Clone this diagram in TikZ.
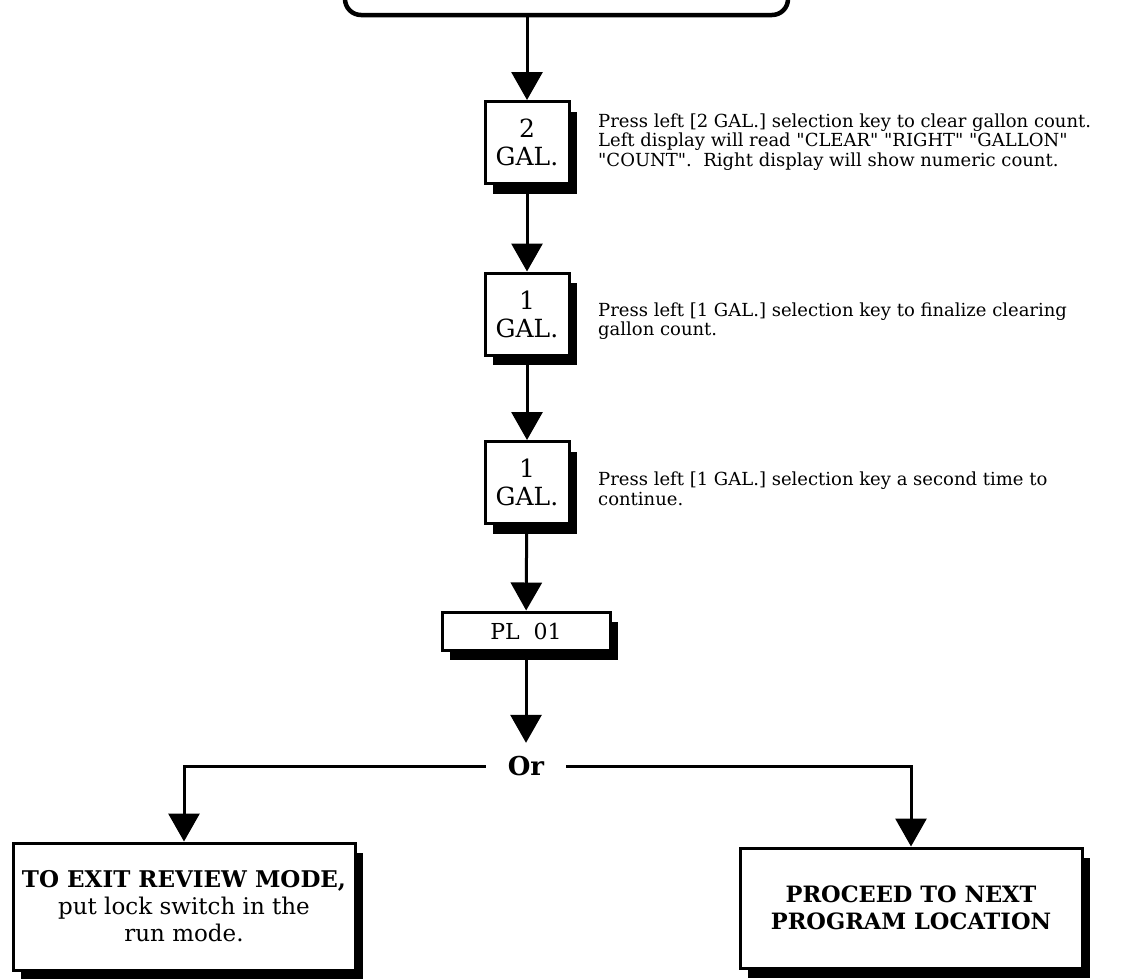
\documentclass[tikz,border=0pt]{standalone}
\usepackage{fontspec}
\setmainfont{DejaVu Serif}
\usetikzlibrary{arrows.meta, shadows}

\begin{document}
\begin{tikzpicture}[x=1pt, y=-1pt,
    arr/.style={line width=3pt, -{Triangle[width=31pt, length=28pt]}},
    key/.style={draw, line width=3pt, fill=white, align=center, inner sep=0pt,
        drop shadow={shadow xshift=8pt, shadow yshift=-10pt, opacity=1, fill=black}},
    gal/.style={key, minimum width=84pt, minimum height=82pt, font=\fontsize{25}{28}\selectfont},
    note/.style={anchor=west, align=left, inner sep=0pt, font=\fontsize{18}{19.5}\selectfont}]
    \useasboundingbox (0,0) rectangle (1142,978);
    \node[draw, line width=4.5pt, rounded corners=16pt, minimum width=443pt, minimum height=50pt](start)at(566.5,-10){};
    \node[gal](gal2)at(527,142.5){2\\GAL.};
    \node[gal](gal1a)at(527,314){1\\GAL.};
    \node[gal](gal1b)at(527,482.5){1\\GAL.};
    \node[key, minimum width=168pt, minimum height=38pt, font=\fontsize{22}{26}\selectfont](pl)at(526,631){PL\ \ 01};
    \node[inner xsep=22pt, minimum height=46pt, font=\fontsize{26}{28}\selectfont\bfseries](or)at(526,766){Or};
    \node[key, minimum width=342pt, minimum height=127pt, font=\fontsize{23}{27}\selectfont](exit)at(184,906.5){\textbf{TO EXIT REVIEW MODE,}\\put lock switch in the\\run mode.};
    \node[key, minimum width=342pt, minimum height=120pt, font=\fontsize{22.5}{27}\selectfont\bfseries](next)at(911,908){PROCEED TO NEXT\\PROGRAM LOCATION};
    \node[note](txt2)at(598,142){Press left [2 GAL.] selection key to clear gallon count.\\Left display will read \textquotedbl CLEAR\textquotedbl\ \textquotedbl RIGHT\textquotedbl\ \textquotedbl GALLON\textquotedbl\\\textquotedbl COUNT\textquotedbl.\ \ Right display will show numeric count.};
    \node[note](txt1a)at(598,321){Press left [1 GAL.] selection key to finalize clearing\\gallon count.};
    \node[note](txt1b)at(598,489){Press left [1 GAL.] selection key a second time to\\continue.};
    \draw[arr](gal2|-start.south)--(gal2);
    \draw[arr](gal2)--(gal1a);
    \draw[arr](gal1a)--(gal1b);
    \draw[arr](gal1b)--(pl);
    \draw[arr](pl)--(or);
    \draw[arr](or.west)-|(exit);
    \draw[arr](or.east)-|(next);
\end{tikzpicture}
\end{document}
